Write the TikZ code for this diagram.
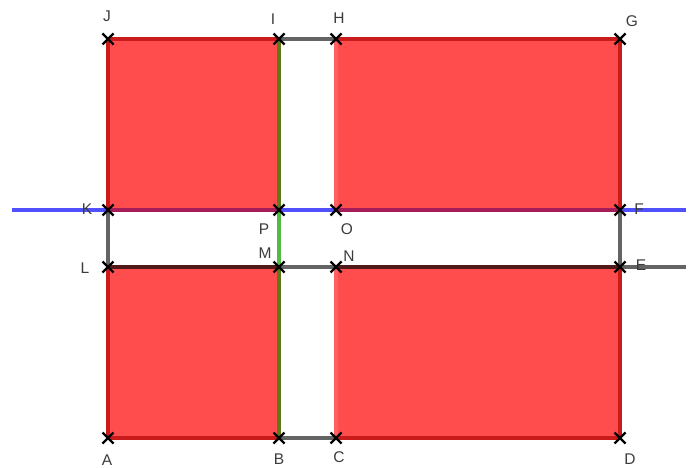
\documentclass[tikz,border=0pt]{standalone}
\usepackage{fontspec}
\setmainfont{Liberation Sans}
\usetikzlibrary{calc}
\definecolor{rfill}{RGB}{255,77,77}
\definecolor{dred}{RGB}{200,28,28}
\definecolor{lred}{RGB}{255,95,95}
\definecolor{mag}{RGB}{165,30,90}
\definecolor{lblue}{RGB}{80,80,255}
\definecolor{lgray}{RGB}{100,100,100}
\definecolor{brn}{RGB}{80,26,26}
\definecolor{olv}{RGB}{95,120,25}
\definecolor{grn}{RGB}{85,185,70}
\definecolor{lbl}{RGB}{60,60,60}
\begin{document}
\begin{tikzpicture}[x=1pt,y=-1pt,
  seg/.style={line width=3.5pt},
  lab/.style={text=lbl,font=\fontsize{15.5}{15.5}\selectfont,inner sep=0pt},
  xm/.style={line width=2.2pt,black}]
\useasboundingbox (0,0) rectangle (693,468);
% points
\coordinate (A) at (108,438);
\coordinate (B) at (279,438);
\coordinate (C) at (336,438);
\coordinate (D) at (620,438);
\coordinate (E) at (620,267);
\coordinate (F) at (620,210);
\coordinate (G) at (620,39);
\coordinate (H) at (336,39);
\coordinate (I) at (279,39);
\coordinate (J) at (108,39);
\coordinate (K) at (108,210);
\coordinate (L) at (108,267);
\coordinate (M) at (279,267);
\coordinate (N) at (336,267);
\coordinate (O) at (336,210);
\coordinate (P) at (279,210);
\coordinate (bl) at (12,210);
\coordinate (br) at (686,210);
\coordinate (gr) at (686,267);
% fills
\fill[rfill] (J) -- (K) -- (P) -- (I) -- cycle;
\fill[rfill] (H) -- (O) -- (F) -- (G) -- cycle;
\fill[rfill] (L) -- (M) -- (B) -- (A) -- cycle;
\fill[rfill] (N) -- (E) -- (D) -- (C) -- cycle;
% rectangle borders
\draw[seg,dred] (K) -- (J) -- (I);
\draw[seg,dred] (H) -- (G) -- (F);
\draw[seg,dred] (L) -- (A) -- (B);
\draw[seg,dred] (C) -- (D) -- (E);
\draw[seg,lred] (H) -- (O);
\draw[seg,lred] (N) -- (C);
% lines
\draw[seg,lblue] (bl) -- (K);
\draw[seg,mag] (K) -- (P);
\draw[seg,lblue] (P) -- (O);
\draw[seg,mag] (O) -- (F);
\draw[seg,lblue] (F) -- (br);
\draw[seg,brn] (L) -- (M);
\draw[seg,lgray] (M) -- (N);
\draw[seg,brn] (N) -- (E);
\draw[seg,lgray] (E) -- (gr);
\draw[seg,olv] (I) -- (P);
\draw[seg,grn] (P) -- (M);
\draw[seg,olv] (M) -- (B);
\draw[seg,lgray] (I) -- (H);
\draw[seg,lgray] (B) -- (C);
\draw[seg,lgray] (K) -- (L);
\draw[seg,lgray] (F) -- (E);
% crosses
\foreach \p in {A,B,C,D,E,F,G,H,I,J,K,L,M,N,O,P}{
  \draw[xm] ($(\p)+(-5.5,-5.5)$) -- ($(\p)+(5.5,5.5)$);
  \draw[xm] ($(\p)+(-5.5,5.5)$) -- ($(\p)+(5.5,-5.5)$);
}
% labels
\node[lab] (lJ) at (107,16) {J};
\node[lab] (lI) at (273,19) {I};
\node[lab] (lH) at (339,18) {H};
\node[lab] (lG) at (632,21) {G};
\node[lab] (lK) at (87,209) {K};
\node[lab] (lL) at (85,268) {L};
\node[lab] (lP) at (264,229) {P};
\node[lab] (lO) at (347,229) {O};
\node[lab] (lM) at (265,253) {M};
\node[lab] (lN) at (349,256) {N};
\node[lab] (lF) at (639,209) {F};
\node[lab] (lE) at (641,265) {E};
\node[lab] (lA) at (107,460) {A};
\node[lab] (lB) at (279,459) {B};
\node[lab] (lC) at (339,457) {C};
\node[lab] (lD) at (630,459) {D};
\end{tikzpicture}
\end{document}
